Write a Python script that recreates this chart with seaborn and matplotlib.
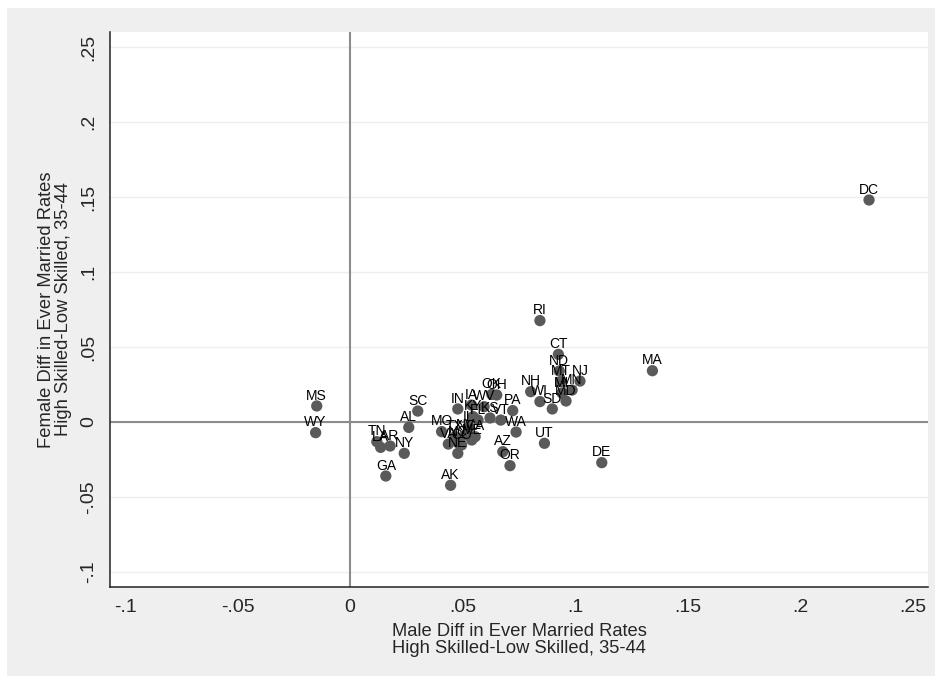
import matplotlib
matplotlib.use("Agg")
import matplotlib.pyplot as plt
from matplotlib.patches import Rectangle
import pandas as pd
import seaborn as sns

# State labels and values
states = [
    "DC", "MA", "RI", "CT", "ND", "MT", "NJ", "MN", "MI", "MD",
    "NH", "WI", "SD", "DE", "UT", "OR", "AZ", "WA", "PA", "VT",
    "KS", "OH", "OK", "WV", "IA", "KY", "IN", "SC", "AL", "MS",
    "WY", "TN", "LA", "AR", "NY", "GA", "AK", "MO", "VA", "NC",
    "IL", "CA", "FL", "NE", "CO", "TX", "NV", "ME",
]
male_diff = [
    0.2307, 0.1344, 0.0844, 0.0926, 0.0930, 0.0936, 0.1022, 0.0987, 0.0942, 0.0960,
    0.0803, 0.0844, 0.0899, 0.1119, 0.0864, 0.0711, 0.0679, 0.0738, 0.0723, 0.0670,
    0.0622, 0.0652, 0.0630, 0.0596, 0.0540, 0.0547, 0.0479, 0.0301, 0.0261, -0.0148,
    -0.0153, 0.0119, 0.0136, 0.0178, 0.0241, 0.0159, 0.0447, 0.0407, 0.0437, 0.0479,
    0.0529, 0.0556, 0.0569, 0.0479, 0.0496, 0.0467, 0.0511, 0.0541,
]
female_diff = [
    0.1480, 0.0342, 0.0676, 0.0451, 0.0340, 0.0269, 0.0273, 0.0213, 0.0193, 0.0140,
    0.0202, 0.0136, 0.0087, -0.0271, -0.0142, -0.0291, -0.0198, -0.0067, 0.0076, 0.0013,
    0.0027, 0.0180, 0.0184, 0.0102, 0.0113, 0.0036, 0.0087, 0.0073, -0.0036, 0.0107,
    -0.0071, -0.0131, -0.0169, -0.0160, -0.0209, -0.0360, -0.0422, -0.0064, -0.0147, -0.0138,
    -0.0033, -0.0098, 0.0013, -0.0209, -0.0153, -0.0098, -0.0087, -0.0120,
]

ticks = [-0.1, -0.05, 0, 0.05, 0.1, 0.15, 0.2, 0.25]
tick_labels = ["-.1", "-.05", "0", ".05", ".1", ".15", ".2", ".25"]

df = pd.DataFrame({"state": states, "male": male_diff, "female": female_diff})

sns.set_style("white")
plt.rcParams["font.family"] = ["Liberation Sans", "DejaVu Sans"]

fig = plt.figure(figsize=(9.42, 6.83), dpi=100)
fig.patch.set_facecolor("white")
# light gray graph region behind the plot area
fig.add_artist(Rectangle((7 / 942, 1 - 676 / 683), 928 / 942, 668 / 683,
                         transform=fig.transFigure, facecolor="#efefef",
                         edgecolor="none", zorder=-10))

ax = fig.add_axes([110 / 942, 1 - 587 / 683, 818 / 942, 555 / 683])
ax.set_facecolor("white")

# faint horizontal grid and reference lines at zero
for t in ticks:
    ax.axhline(t, color="#eeeeee", lw=1, zorder=0)
ax.axhline(0, color="#8c8c8c", lw=1.5, zorder=1)
ax.axvline(0, color="#8c8c8c", lw=1.5, zorder=1)

sns.scatterplot(data=df, x="male", y="female", ax=ax, s=66, color="#5a5a5a",
                edgecolor="none", zorder=3, legend=False)

for _, row in df.iterrows():
    ax.annotate(row["state"], (row["male"], row["female"]), xytext=(0, 4.5),
                textcoords="offset points", ha="center", va="baseline",
                fontsize=10, color="black", zorder=4)

ax.set_xlim(-0.1067, 0.2569)
ax.set_ylim(-0.11, 0.26)
ax.set_xticks(ticks)
ax.set_xticklabels(tick_labels)
ax.set_yticks(ticks)
ax.set_yticklabels(tick_labels, rotation=90, va="center")
ax.tick_params(axis="both", direction="out", length=6, width=1, color="#333333",
               labelsize=14, pad=3)

for side in ["top", "right"]:
    ax.spines[side].set_visible(False)
for side in ["left", "bottom"]:
    ax.spines[side].set_color("#222222")
    ax.spines[side].set_linewidth(1.1)

ax.set_xlabel("Male Diff in Ever Married Rates\nHigh Skilled-Low Skilled, 35-44",
              fontsize=13.2, linespacing=1.0, labelpad=5)
ax.set_ylabel("Female Diff in Ever Married Rates\nHigh Skilled-Low Skilled, 35-44",
              fontsize=13.2, linespacing=1.0, labelpad=6)

fig.savefig("out.png", dpi=100)
